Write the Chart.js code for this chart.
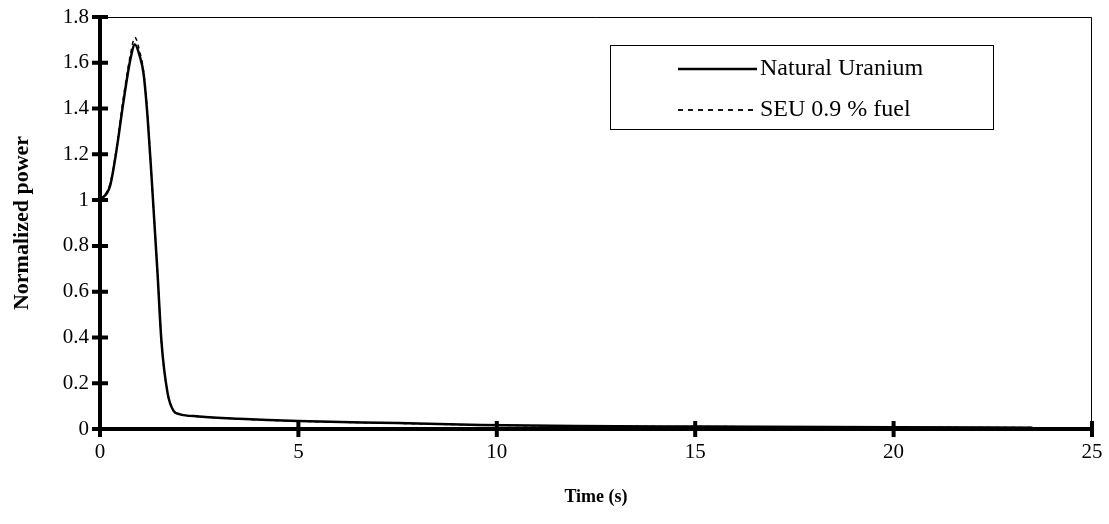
<!DOCTYPE html>
<html>
<head>
<meta charset="utf-8">
<script src="https://cdn.jsdelivr.net/npm/chart.js@4/dist/chart.umd.min.js"></script>
<style>
  html, body { margin: 0; padding: 0; background: #fff; }
  #wrap { width: 1109px; height: 524px; }
</style>
</head>
<body>
<div id="wrap"><canvas id="chart" width="1109" height="524"></canvas></div>
<script>
// Time (s)
const timeS = [0, 0.25, 0.4, 0.6, 0.76, 0.88, 1.0, 1.1, 1.2, 1.3, 1.45, 1.55, 1.7, 1.85, 2.0, 2.5, 3.5, 5, 7.5, 9.6, 12, 15, 20, 23.5]
const naturalUranium = [1.0, 1.06, 1.2, 1.44, 1.61, 1.68, 1.63, 1.55, 1.36, 1.1, 0.68, 0.38, 0.16, 0.08, 0.065, 0.055, 0.045, 0.035, 0.026, 0.018, 0.013, 0.011, 0.008, 0.006]
const seuFuel = [1.0, 1.07, 1.21, 1.46, 1.63, 1.71, 1.65, 1.56, 1.37, 1.1, 0.68, 0.38, 0.16, 0.08, 0.064, 0.054, 0.044, 0.034, 0.025, 0.017, 0.013, 0.011, 0.008, 0.006]
const seriesNames = ['Natural Uranium', 'SEU 0.9 % fuel']
const xTicks = [0, 5, 10, 15, 20, 25]
const yTicks = [0, 0.2, 0.4, 0.6, 0.8, 1, 1.2, 1.4, 1.6, 1.8]

const serif = '"Liberation Serif", "DejaVu Serif", serif'

const toPoints = (xs, ys) => xs.map((x, i) => ({ x: x, y: ys[i] }))

// frame on top/right, ticks crossing the axes, and the boxed legend
const decorations = {
  id: 'decorations',
  afterDraw(chart) {
    const ctx = chart.ctx
    const a = chart.chartArea
    const xs = chart.scales.x
    const ys = chart.scales.y
    ctx.save()
    ctx.strokeStyle = '#000'
    ctx.lineWidth = 1
    ctx.beginPath()
    ctx.moveTo(a.left, a.top + 0.5)
    ctx.lineTo(a.right - 0.5, a.top + 0.5)
    ctx.lineTo(a.right - 0.5, a.bottom)
    ctx.stroke()

    ctx.lineWidth = 4
    ctx.beginPath()
    yTicks.forEach(v => {
      const py = ys.getPixelForValue(v)
      ctx.moveTo(a.left - 8, py)
      ctx.lineTo(a.left + 8, py)
    })
    xTicks.forEach(v => {
      const px = xs.getPixelForValue(v)
      ctx.moveTo(px, a.bottom - 8)
      ctx.lineTo(px, a.bottom + 8)
    })
    ctx.stroke()

    // legend box
    const bx = 610, by = 45, bw = 383, bh = 84
    ctx.lineWidth = 1
    ctx.strokeRect(bx + 0.5, by + 0.5, bw, bh)
    ctx.font = '24px ' + serif
    ctx.fillStyle = '#000'
    ctx.textBaseline = 'middle'
    ctx.lineWidth = 2.5
    ctx.beginPath()
    ctx.moveTo(678, 69)
    ctx.lineTo(757, 69)
    ctx.stroke()
    ctx.fillText(seriesNames[0], 760, 69)
    ctx.lineWidth = 1.8
    ctx.setLineDash([5, 5])
    ctx.beginPath()
    ctx.moveTo(678, 110)
    ctx.lineTo(757, 110)
    ctx.stroke()
    ctx.setLineDash([])
    ctx.fillText(seriesNames[1], 760, 110)
    ctx.restore()
  }
}

new Chart(document.getElementById('chart'), {
  type: 'line',
  data: {
    datasets: [
      {
        label: seriesNames[0],
        data: toPoints(timeS, naturalUranium),
        borderColor: '#000',
        borderWidth: 2.5,
        pointRadius: 0,
        cubicInterpolationMode: 'monotone'
      },
      {
        label: seriesNames[1],
        data: toPoints(timeS, seuFuel),
        borderColor: '#000',
        borderWidth: 1.5,
        borderDash: [4, 4],
        pointRadius: 0,
        cubicInterpolationMode: 'monotone'
      }
    ]
  },
  options: {
    responsive: false,
    animation: false,
    layout: { padding: { top: 17, right: 17, left: 5, bottom: 12 } },
    plugins: {
      legend: { display: false },
      tooltip: { enabled: false }
    },
    scales: {
      x: {
        type: 'linear',
        min: 0,
        max: 25,
        afterBuildTicks: s => { s.ticks = xTicks.map(v => ({ value: v })) },
        afterFit: s => {
          s.height = 83
          s.paddingLeft = 0
          s.paddingRight = 0
        },
        grid: { display: true, drawOnChartArea: false, drawTicks: false },
        border: { color: '#000', width: 4 },
        ticks: {
          color: '#000',
          padding: 11,
          font: { family: serif, size: 21 }
        },
        title: {
          display: true,
          text: 'Time (s)',
          color: '#000',
          font: { family: serif, size: 18, weight: 'bold' }
        }
      },
      y: {
        min: 0,
        max: 1.8,
        afterBuildTicks: s => { s.ticks = yTicks.map(v => ({ value: v })) },
        afterFit: s => {
          s.width = 95
          s.paddingTop = 0
          s.paddingBottom = 0
        },
        grid: { display: true, drawOnChartArea: false, drawTicks: false },
        border: { color: '#000', width: 4 },
        ticks: {
          color: '#000',
          padding: 11,
          font: { family: serif, size: 21 },
          callback: v => String(Math.round(v * 10) / 10)
        },
        title: {
          display: true,
          text: 'Normalized power',
          color: '#000',
          font: { family: serif, size: 22, weight: 'bold' }
        }
      }
    }
  },
  plugins: [decorations]
})
</script>
</body>
</html>
